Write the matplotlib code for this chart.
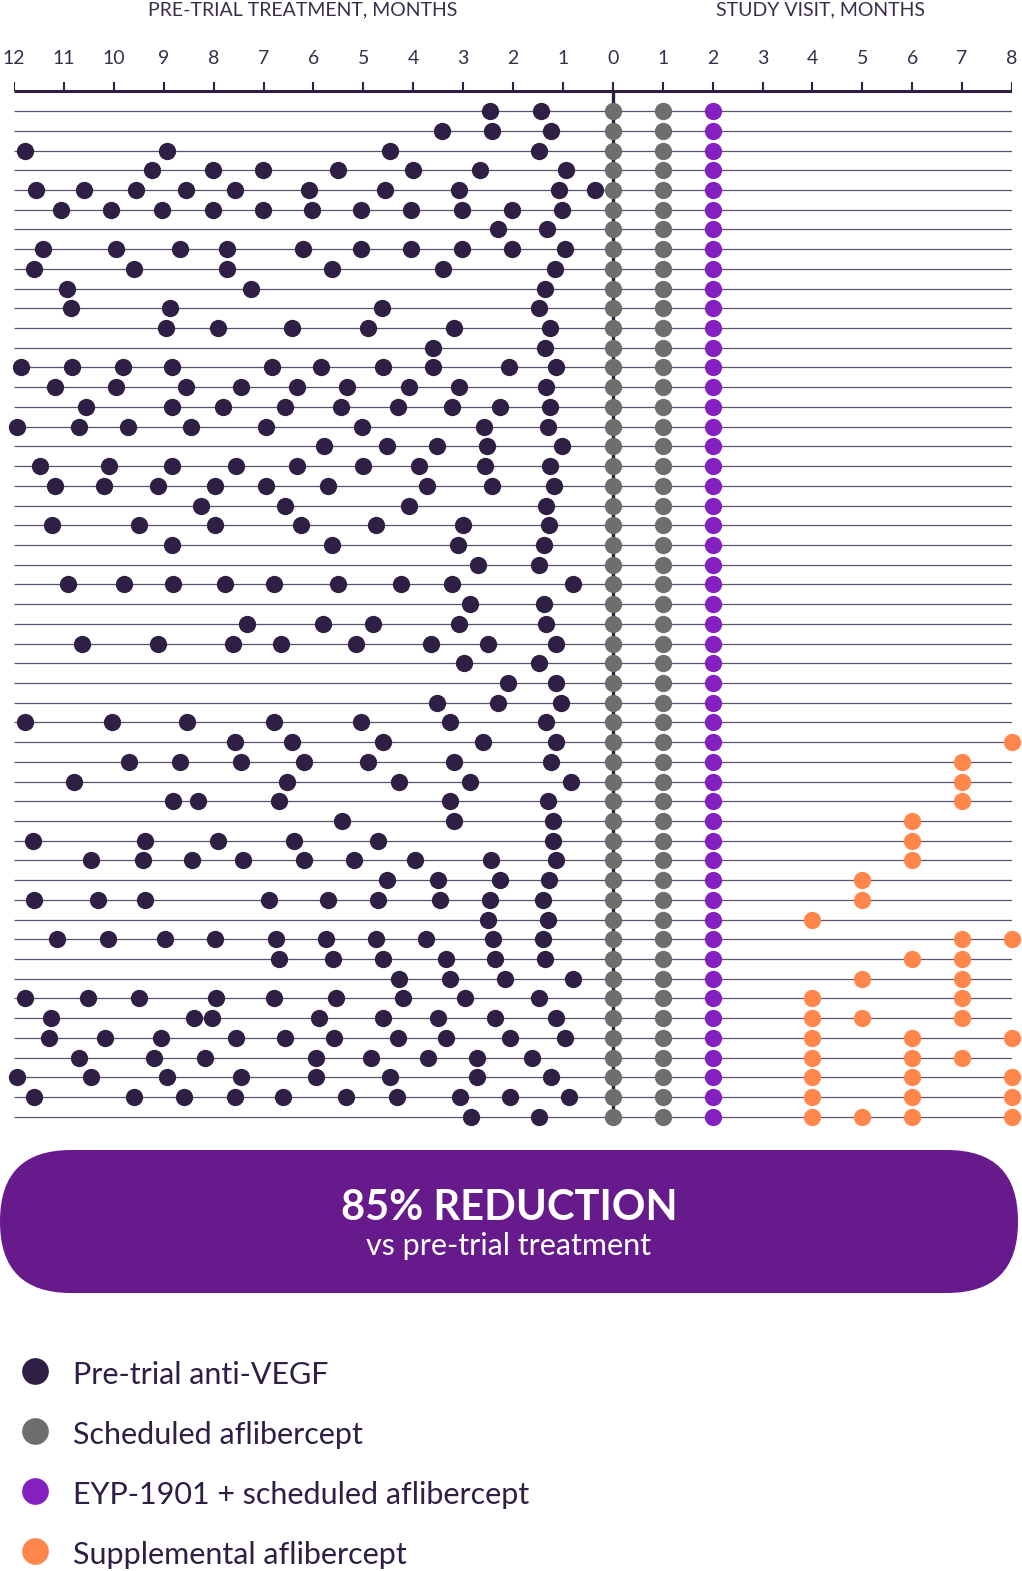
import matplotlib
matplotlib.use("Agg")
import matplotlib.pyplot as plt
from matplotlib.patches import FancyBboxPatch

plt.rcParams['font.family'] = ['Lato', 'DejaVu Sans']

# months before baseline for each patient's pre-trial anti-VEGF injections
pre_trial = [
    [2.47, 1.44],
    [3.43, 2.43, 1.24],
    [11.77, 8.94, 4.47, 1.48],
    [9.24, 8.02, 7.01, 5.51, 4.01, 2.67, 0.93],
    [11.55, 10.60, 9.56, 8.56, 7.57, 6.08, 4.57, 3.08, 1.07, 0.35],
    [11.06, 10.05, 9.03, 8.02, 7.01, 6.02, 5.05, 4.04, 3.03, 2.03, 1.02],
    [2.31, 1.31],
    [11.42, 9.96, 8.68, 7.73, 6.21, 5.05, 4.04, 3.03, 2.03, 0.96],
    [11.59, 9.59, 7.73, 5.63, 3.41, 1.16],
    [10.93, 7.26, 1.36],
    [10.86, 8.87, 4.63, 1.48],
    [8.95, 7.91, 6.42, 4.91, 3.19, 1.26],
    [3.61, 1.36],
    [11.85, 10.83, 9.82, 8.84, 6.83, 5.85, 4.61, 3.61, 2.09, 1.13],
    [11.18, 9.95, 8.55, 7.46, 6.32, 5.32, 4.09, 3.08, 1.33],
    [10.55, 8.83, 7.81, 6.56, 5.45, 4.31, 3.23, 2.26, 1.26],
    [11.94, 10.70, 9.71, 8.46, 6.95, 5.03, 2.58, 1.30],
    [5.78, 4.53, 3.53, 2.53, 1.02],
    [11.47, 10.09, 8.84, 7.55, 6.32, 5.01, 3.88, 2.57, 1.26],
    [11.18, 10.19, 9.11, 7.97, 6.94, 5.71, 3.72, 2.42, 1.18],
    [8.25, 6.56, 4.09, 1.34],
    [11.23, 9.49, 7.98, 6.24, 4.74, 3.01, 1.28],
    [8.84, 5.63, 3.11, 1.37],
    [2.71, 1.47],
    [10.91, 9.80, 8.81, 7.78, 6.78, 5.51, 4.25, 3.23, 0.80],
    [2.87, 1.37],
    [7.33, 5.81, 4.81, 3.08, 1.33],
    [10.63, 9.11, 7.62, 6.65, 5.15, 3.65, 2.51, 1.13],
    [2.99, 1.47],
    [2.11, 1.13],
    [3.53, 2.30, 1.04],
    [11.77, 10.03, 8.53, 6.78, 5.05, 3.27, 1.34],
    [7.58, 6.42, 4.61, 2.61, 1.13],
    [9.70, 8.67, 7.46, 6.18, 4.91, 3.18, 1.24],
    [10.80, 6.52, 4.28, 2.86, 0.83],
    [8.82, 8.32, 6.68, 3.27, 1.30],
    [5.42, 3.18, 1.20],
    [11.62, 9.38, 7.92, 6.38, 4.71, 1.20],
    [10.46, 9.42, 8.43, 7.42, 6.18, 5.19, 3.96, 2.44, 1.13],
    [4.53, 3.50, 2.27, 1.27],
    [11.59, 10.32, 9.37, 6.88, 5.71, 4.71, 3.47, 2.47, 1.40],
    [2.50, 1.30],
    [11.13, 10.11, 8.98, 7.98, 6.75, 5.74, 4.75, 3.74, 2.41, 1.40],
    [6.69, 5.60, 4.61, 3.35, 2.37, 1.36],
    [4.29, 3.27, 2.17, 0.80],
    [11.77, 10.52, 9.49, 7.95, 6.78, 5.55, 4.21, 2.97, 1.48],
    [11.26, 8.39, 8.04, 5.88, 4.61, 3.50, 2.37, 1.13],
    [11.29, 10.18, 9.05, 7.55, 6.56, 5.58, 4.31, 3.34, 2.07, 0.96],
    [10.70, 9.19, 8.18, 5.95, 4.85, 3.71, 2.72, 1.61],
    [11.94, 10.46, 8.94, 7.46, 5.95, 4.46, 2.72, 1.23],
    [11.59, 9.59, 8.59, 7.58, 6.61, 5.34, 4.33, 3.07, 2.07, 0.87],
    [2.84, 1.47],
]

# study visit months with supplemental aflibercept, per patient
supplemental = [[]] * 32 + [
    [8], [7], [7], [7], [6], [6], [6], [5], [5], [4],
    [7, 8], [6, 7], [5, 7], [4, 7], [4, 5, 7],
    [4, 6, 8], [4, 6, 7], [4, 6, 8], [4, 6, 8], [4, 5, 6, 8],
]

scheduled_visits = [0, 1]
eyp_visit = 2
pre_ticks = list(range(12, 0, -1))
study_ticks = list(range(0, 9))

legend_labels = ['Pre-trial anti-VEGF', 'Scheduled aflibercept',
                 'EYP-1901 + scheduled aflibercept', 'Supplemental aflibercept']

c_dark = '#2f1f45'
c_gray = '#6e6e6e'
c_purple = '#8420c0'
c_orange = '#ff874b'
c_banner = '#661a8b'
c_text = '#3a2d4c'
c_line = '#5c526c'

W, H = 1022, 1571
fig = plt.figure(figsize=(W / 100, H / 100), dpi=100)

# main dot chart, x in months (negative = before baseline), y = patient row
top_px, bot_px = 52.0, 1136.5
ax = fig.add_axes([14 / W, 1 - bot_px / H, 998 / W, (bot_px - top_px) / H])
ax.set_xlim(-12, 8)
ax.set_ylim(53, -2)
ax.axis('off')

n = len(pre_trial)
rows = list(range(1, n + 1))
ax.hlines(rows, -12, 8, color=c_line, lw=0.9, zorder=1)
ax.vlines(0, 0, n + 0.3, color=c_dark, lw=2.4, zorder=2)
ax.hlines(0, -12, 8, color=c_dark, lw=2.2, zorder=2)
tick_x = [-t for t in pre_ticks] + study_ticks
ax.vlines(tick_x, -0.5, 0, color=c_dark, lw=1.5, zorder=2)

ms = 155
for r, vals in zip(rows, pre_trial):
    ax.scatter([-v for v in vals], [r] * len(vals), s=ms, color=c_dark,
               lw=0, zorder=3, clip_on=False)
    ax.scatter(scheduled_visits, [r] * len(scheduled_visits), s=ms, color=c_gray,
               lw=0, zorder=3, clip_on=False)
    ax.scatter([eyp_visit], [r], s=ms, color=c_purple, lw=0, zorder=3, clip_on=False)
for r, vals in zip(rows, supplemental):
    if vals:
        ax.scatter(vals, [r] * len(vals), s=ms, color=c_orange, lw=0,
                   zorder=3, clip_on=False)

for t in pre_ticks:
    ax.text(-t, -1.65, str(t), ha='center', va='center', fontsize=14,
            color=c_text)
for t in study_ticks:
    ax.text(t, -1.65, str(t), ha='center', va='center', fontsize=14,
            color=c_text)

fig.text(303 / W, 1 - 15 / H, 'PRE-TRIAL TREATMENT, MONTHS', ha='center',
         va='baseline', fontsize=14, color=c_text)
fig.text(820 / W, 1 - 15 / H, 'STUDY VISIT, MONTHS', ha='center',
         va='baseline', fontsize=14, color=c_text)

# banner and legend in pixel coordinates
ov = fig.add_axes([0, 0, 1, 1])
ov.set_xlim(0, W)
ov.set_ylim(H, 0)
ov.axis('off')
ov.add_patch(FancyBboxPatch((0, 1150), 1018, 143,
                            boxstyle='round,pad=0,rounding_size=71',
                            fc=c_banner, ec='none'))
ov.text(509, 1208, '85% REDUCTION', ha='center', va='center', fontsize=30,
        fontweight='bold', color='white')
ov.text(509, 1246, 'vs pre-trial treatment', ha='center', va='center',
        fontsize=22, color='white')

legend_colors = [c_dark, c_gray, c_purple, c_orange]
for i, (lab, col) in enumerate(zip(legend_labels, legend_colors)):
    y = 1371 + i * 60
    ov.scatter([35], [y], s=370, color=col, lw=0)
    ov.text(73, y + 4, lab, ha='left', va='center', fontsize=22, color=c_dark)

fig.savefig('out.png', dpi=100)
